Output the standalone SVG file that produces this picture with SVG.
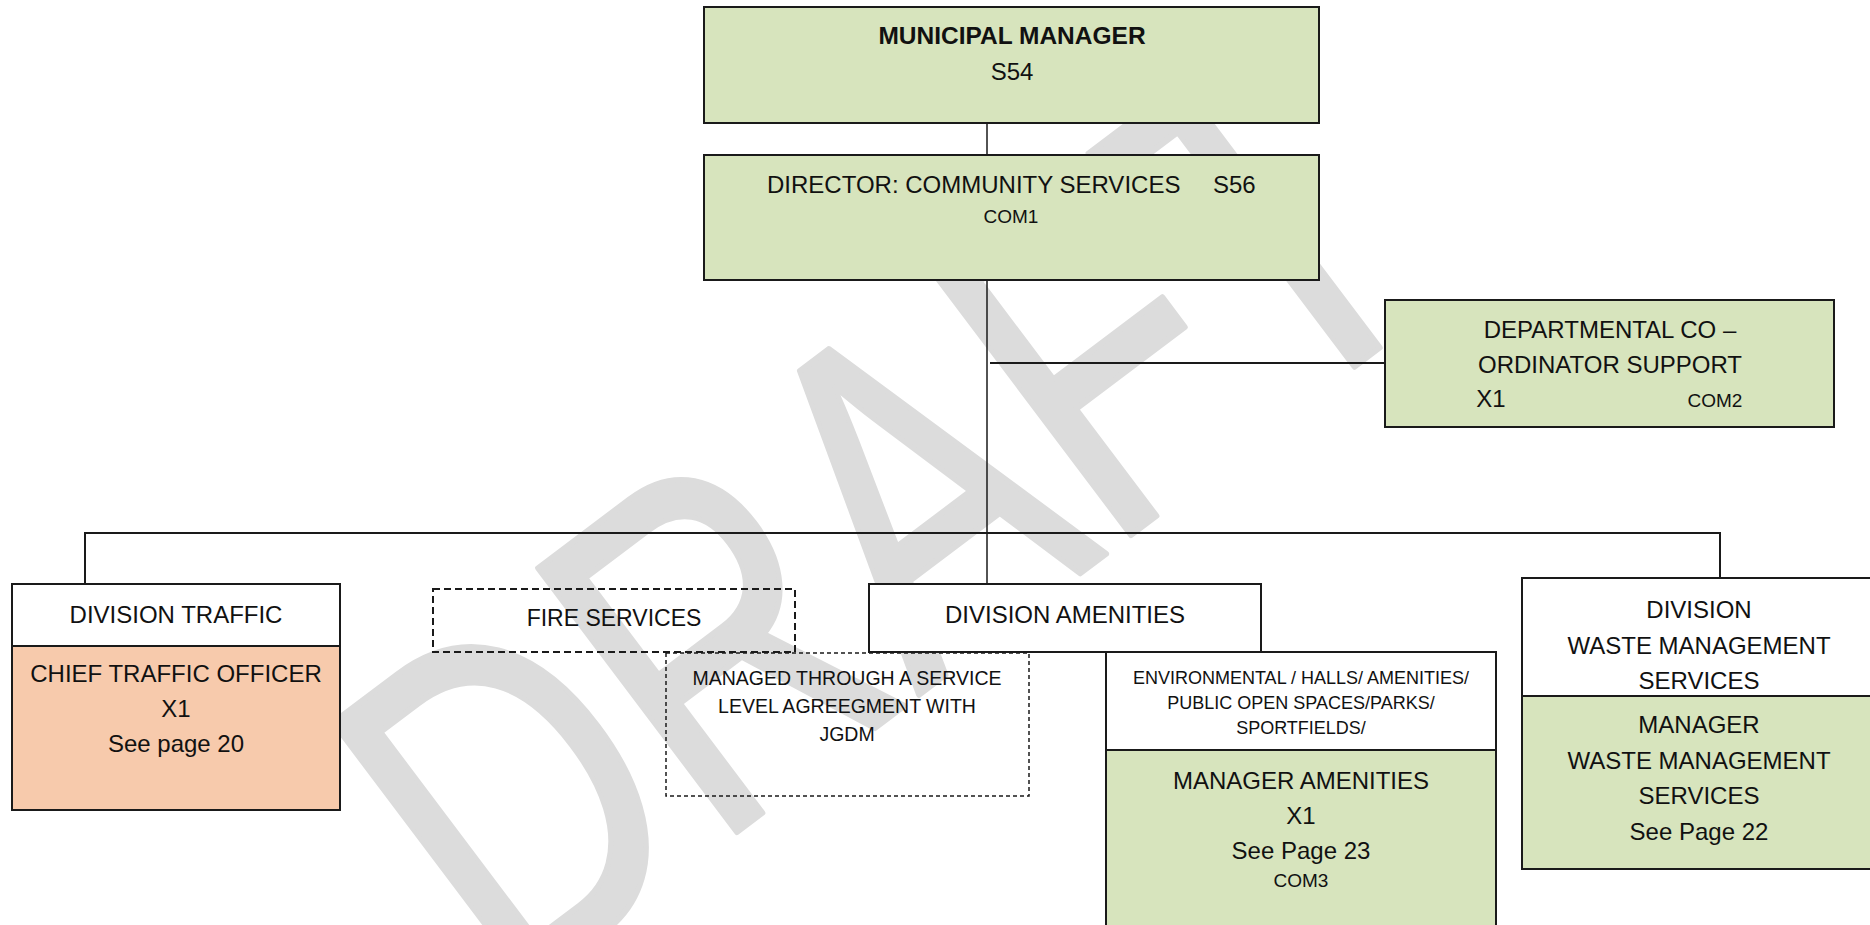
<svg xmlns="http://www.w3.org/2000/svg" width="1870" height="925" viewBox="0 0 1870 925">
<style>
  .box{stroke:#1a1a1a;stroke-width:2}
  .green{fill:#D7E4BD}
  .peach{fill:#F7CAAC}
  .white{fill:#FFFFFF}
  .dash{fill:none;stroke:#1a1a1a;stroke-width:2;stroke-dasharray:7 4}
  .dash2{fill:none;stroke:#1a1a1a;stroke-width:1.5;stroke-dasharray:4 3}
  .conn{stroke:#1a1a1a;stroke-width:2;fill:none}
  text{font-family:"Liberation Sans",Arial,sans-serif;fill:#111;text-anchor:middle}
  .t24{font-size:24px}
  .t19{font-size:19px}
  .t18{font-size:18px}
  .bold{font-weight:bold}
  .wm{font-family:"Liberation Sans",Arial,sans-serif;font-size:480px;fill:#DCDCDC;stroke:#DCDCDC;stroke-width:6;stroke-linejoin:round;text-anchor:middle}
</style>
<rect width="1870" height="925" fill="#FFFFFF"/>
<g id="watermark">
  <text class="wm" transform="translate(981,648) rotate(-37) scale(0.74,1)">DRAFT</text>
</g>
<g id="connectors">
  <line class="conn" x1="987" y1="123" x2="987" y2="155" style="stroke-width:1.5"/>
  <line class="conn" x1="987" y1="280" x2="987" y2="584" style="stroke-width:1.5"/>
  <line class="conn" x1="990" y1="363" x2="1385" y2="363"/>
  <polyline class="conn" points="85,584 85,533 1720,533 1720,578"/>
</g>
<g id="municipal-manager">
  <rect class="box green" x="704" y="7" width="615" height="116"/>
  <text class="t24 bold" x="1012" y="44" style="font-size:24.5px">MUNICIPAL MANAGER</text>
  <text class="t24" x="1012" y="80">S54</text>
</g>
<g id="director">
  <rect class="box green" x="704" y="155" width="615" height="125"/>
  <text class="t24" x="767" y="193" style="text-anchor:start">DIRECTOR: COMMUNITY SERVICES</text>
  <text class="t24" x="1213" y="193" style="text-anchor:start">S56</text>
  <text class="t19" x="1011" y="223">COM1</text>
</g>
<g id="departmental-coordinator">
  <rect class="box green" x="1385" y="300" width="449" height="127"/>
  <text class="t24" x="1610" y="338">DEPARTMENTAL CO –</text>
  <text class="t24" x="1610" y="373">ORDINATOR SUPPORT</text>
  <text class="t24" x="1491" y="407">X1</text>
  <text class="t19" x="1715" y="407">COM2</text>
</g>
<g id="division-traffic">
  <rect class="box white" x="12" y="584" width="328" height="62"/>
  <rect class="box peach" x="12" y="646" width="328" height="164"/>
  <text class="t24" x="176" y="623">DIVISION TRAFFIC</text>
  <text class="t24" x="176" y="682">CHIEF TRAFFIC OFFICER</text>
  <text class="t24" x="176" y="717">X1</text>
  <text class="t24" x="176" y="752">See page 20</text>
</g>
<g id="fire-services">
  <rect class="dash" x="433" y="589" width="362" height="63"/>
  <text class="t24" x="614" y="626" style="font-size:23px">FIRE SERVICES</text>
</g>
<g id="managed-sla">
  <rect class="dash2" x="666" y="653" width="363" height="143"/>
  <text x="847" y="685" style="font-size:19.5px">MANAGED THROUGH A SERVICE</text>
  <text x="847" y="713" style="font-size:19.5px">LEVEL AGREEGMENT WITH</text>
  <text x="847" y="741" style="font-size:19.5px">JGDM</text>
</g>
<g id="division-amenities">
  <rect class="box white" x="869" y="584" width="392" height="68"/>
  <text class="t24" x="1065" y="623">DIVISION AMENITIES</text>
</g>
<g id="amenities-scope">
  <rect class="box white" x="1106" y="652" width="390" height="98"/>
  <text class="t18" x="1301" y="684">ENVIRONMENTAL / HALLS/ AMENITIES/</text>
  <text class="t18" x="1301" y="709">PUBLIC OPEN SPACES/PARKS/</text>
  <text class="t18" x="1301" y="734">SPORTFIELDS/</text>
</g>
<g id="manager-amenities">
  <rect class="box green" x="1106" y="750" width="390" height="190"/>
  <text class="t24" x="1301" y="789">MANAGER AMENITIES</text>
  <text class="t24" x="1301" y="824">X1</text>
  <text class="t24" x="1301" y="859">See Page 23</text>
  <text class="t19" x="1301" y="887">COM3</text>
</g>
<g id="division-waste">
  <rect class="box white" x="1522" y="578" width="360" height="118"/>
  <text class="t24" x="1699" y="618">DIVISION</text>
  <text class="t24" x="1699" y="654">WASTE MANAGEMENT</text>
  <text class="t24" x="1699" y="689">SERVICES</text>
</g>
<g id="manager-waste">
  <rect class="box green" x="1522" y="696" width="360" height="173"/>
  <text class="t24" x="1699" y="733">MANAGER</text>
  <text class="t24" x="1699" y="769">WASTE MANAGEMENT</text>
  <text class="t24" x="1699" y="804">SERVICES</text>
  <text class="t24" x="1699" y="840">See Page 22</text>
</g>
</svg>
